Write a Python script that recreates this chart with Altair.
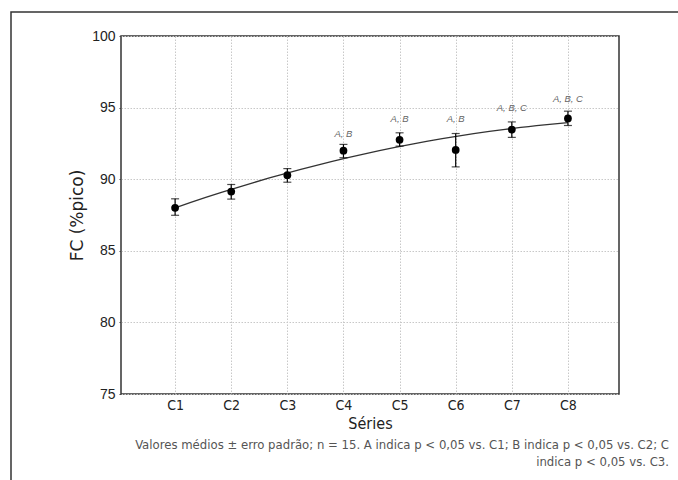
import altair as alt
import pandas as pd

# ---- data ----
series = ["C1", "C2", "C3", "C4", "C5", "C6", "C7", "C8"]
series_idx = [1, 2, 3, 4, 5, 6, 7, 8]
means = [88.0, 89.14, 90.28, 91.99, 92.75, 92.04, 93.47, 94.24]
err_lo = [87.48, 88.61, 89.79, 91.50, 92.31, 90.86, 92.92, 93.75]
err_hi = [88.63, 89.63, 90.74, 92.43, 93.24, 93.19, 94.00, 94.75]
sig_labels = ["", "", "", "A, B", "A, B", "A, B", "A, B, C", "A, B, C"]
sig_y = [None, None, None, 93.17, 94.17, 94.20, 94.98, 95.58]
y_ticks = [75, 80, 85, 90, 95, 100]
x_title = "Séries"
y_title = "FC (%pico)"
caption = ["Valores médios ± erro padrão; n = 15. A indica p < 0,05 vs. C1; B indica p < 0,05 vs. C2; C",
           "indica p < 0,05 vs. C3."]

df = pd.DataFrame({"serie": series, "idx": series_idx, "mean": means,
                   "lo": err_lo, "hi": err_hi})
df_sig = pd.DataFrame({"idx": series_idx, "label": sig_labels, "ly": sig_y}).dropna()

COND = "DejaVu Sans Condensed"
W, H = 498, 358
xs = alt.Scale(domain=[0.036, 8.91], nice=False, zero=False)
ys = alt.Scale(domain=[75, 100], nice=False, zero=False)

xaxis = alt.Axis(values=series_idx, labelExpr="'C' + datum.value", title=x_title,
                 grid=True, ticks=False, domain=False,
                 labelFont=COND, labelFontSize=14, labelColor="#222",
                 labelPadding=4, titleFont=COND, titleFontSize=16,
                 titleFontWeight="normal", titleColor="#222", titlePadding=3)
yaxis = alt.Axis(values=y_ticks, title=y_title, grid=True, ticks=True, tickSize=2,
                 tickColor="#444", domain=False,
                 labelFont="Liberation Sans", labelFontSize=14, labelColor="#222",
                 labelPadding=4, titleFont="DejaVu Sans", titleFontSize=17,
                 titleFontWeight="normal", titleColor="#222", titlePadding=5)

X = alt.X("idx:Q", scale=xs, axis=xaxis)
Y = alt.Y("mean:Q", scale=ys, axis=yaxis)

curve = alt.Chart(df).transform_regression(
    "idx", "mean", method="poly", order=2
).mark_line(color="#333", strokeWidth=1.3).encode(x=X, y=Y)

bars = alt.Chart(df).mark_errorbar(
    ticks={"size": 8, "color": "black"}, color="black", thickness=1.2
).encode(x=X, y=alt.Y("lo:Q", scale=ys, axis=yaxis), y2="hi:Q")

points = alt.Chart(df).mark_point(filled=True, size=60, color="black", opacity=1).encode(x=X, y=Y)

sig = alt.Chart(df_sig).mark_text(
    font="Liberation Sans", fontSize=9.5, fontStyle="italic", color="#666", baseline="middle"
).encode(x=X, y=alt.Y("ly:Q", scale=ys, axis=yaxis), text="label:N")

frame = alt.Chart(pd.DataFrame({"k": [0]})).mark_rect(
    fill=None, stroke="#333", strokeWidth=1.5, clip=False
).encode(x=alt.value(11 - 121), x2=alt.value(700 - 121),
         y=alt.value(12 - 36), y2=alt.value(500 - 36))

cap = alt.Chart(pd.DataFrame({"t": ["\n".join(caption)]})).mark_text(
    align="right", baseline="middle", font=COND, fontSize=13,
    color="#555", lineBreak="\n", lineHeight=17
).encode(x=alt.value(669 - 121), y=alt.value(445 - 36), text="t:N")

chart = alt.layer(frame, curve, bars, points, sig, cap).properties(
    width=W, height=H,
    autosize=alt.AutoSizeParams(type="none"),
    padding={"left": 121, "top": 36, "right": 678 - 121 - W, "bottom": 480 - 36 - H},
    background="white",
).configure_view(stroke="#333", strokeWidth=1.5).configure_axis(
    gridColor="#c8c8c8", gridDash=[1.5, 1.5], gridWidth=1
)

chart.save("out.html", embed_options={"renderer": "svg", "actions": False})
